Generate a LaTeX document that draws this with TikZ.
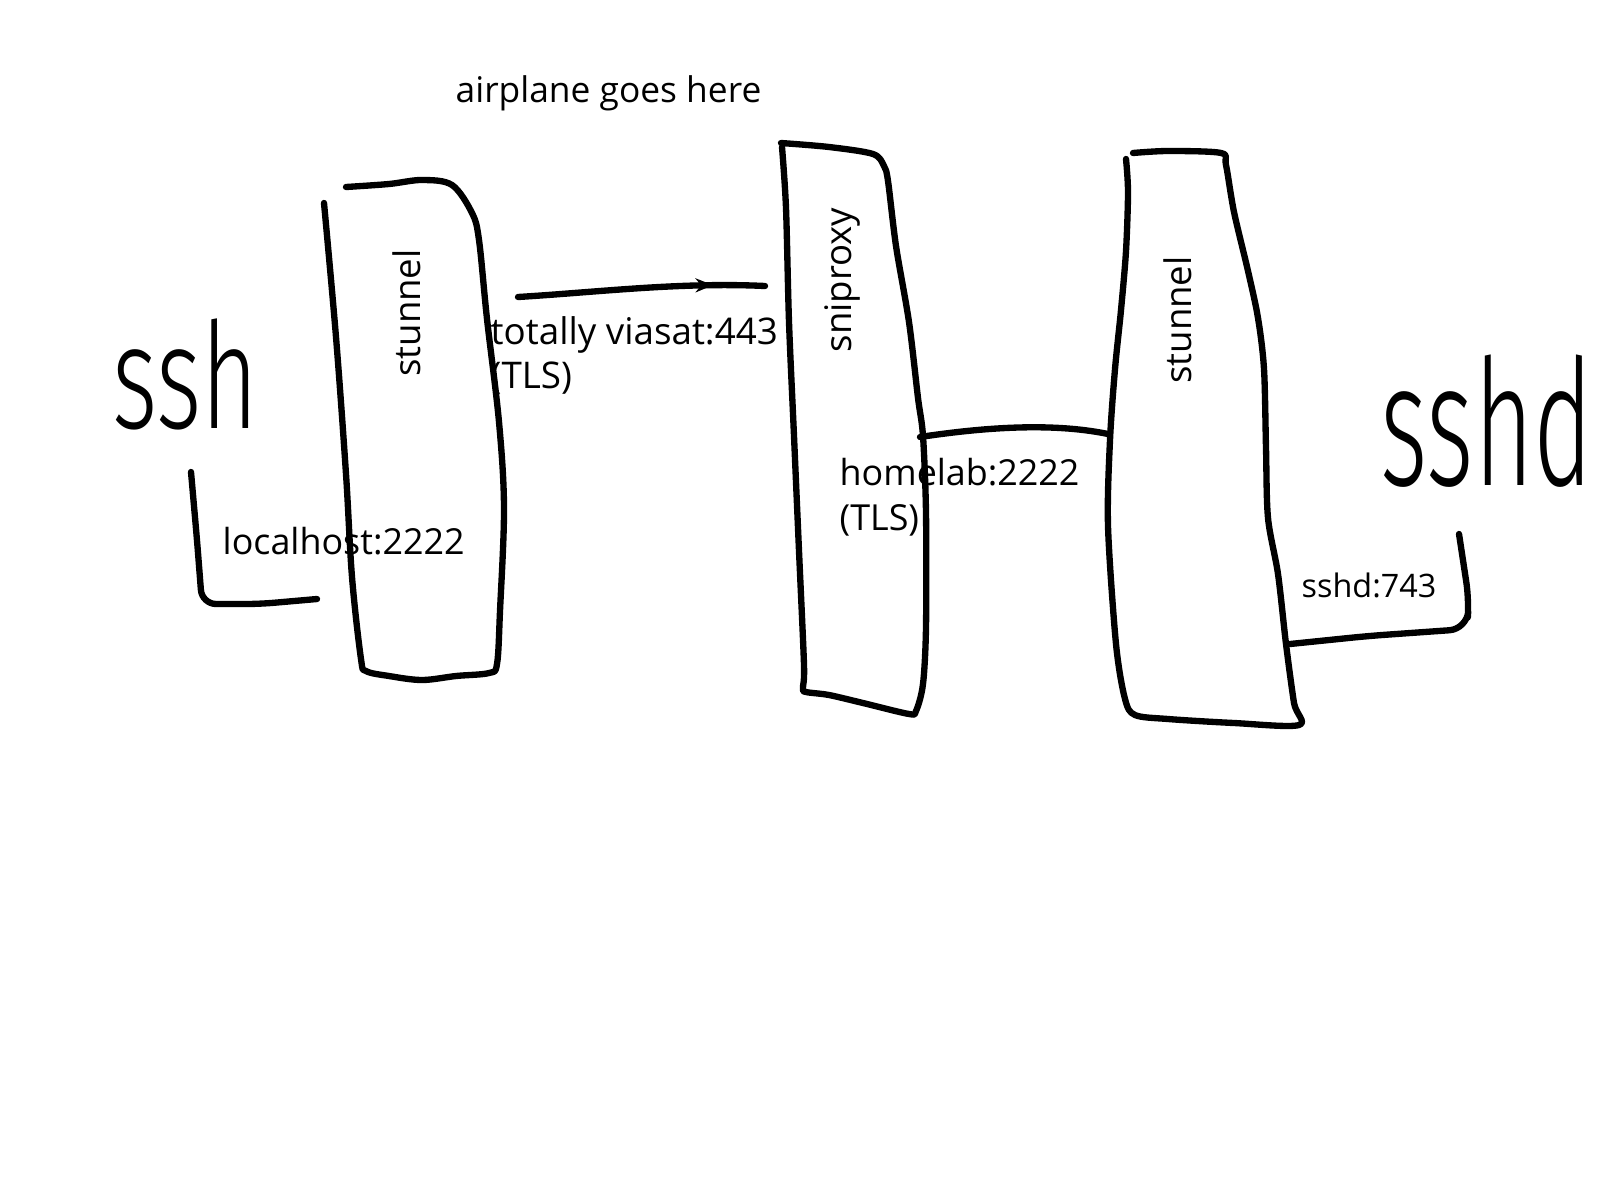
\documentclass[tikz,border=0pt]{standalone}
\usepackage{fontspec}
\setmainfont{Open Sans}
\newfontfamily\handfont{Fira Sans Light}
\usetikzlibrary{arrows.meta,decorations.markings}
\tikzset{
  pen/.style={line width=1.8pt, line cap=round, line join=round},
  lbl/.style={font=\fontsize{10.2}{12.6}\selectfont, inner sep=0pt, align=left},
  smalllbl/.style={font=\fontsize{9.2}{11}\selectfont, inner sep=0pt},
  vlbl/.style={font=\fontsize{10.4}{12.6}\selectfont, inner sep=0pt, rotate=90},
  arrowmark/.style={postaction={decorate}, decoration={markings,
      mark=at position 0.79 with {\arrow{Stealth[length=5pt,width=4pt]}}}}
}
\begin{document}
\begin{tikzpicture}[x=0.01cm,y=-0.01cm]
\fill[white] (0,0) rectangle (1600,1200);
\path[use as bounding box] (0,0) rectangle (1600,1200);

% left stunnel box
\draw[pen] plot[smooth, tension=0.55] coordinates {(346,187) (389,184) (422,180) (452,185) (472,213) (479,240) (487,319) (499,422) (504,508) (500,611) (497,664) (489,673) (456,676) (422,680) (389,676) (366,671) (361,659) (352,577) (346,474) (336,337) (324,203)};
% sniproxy box
\draw[pen] plot[smooth, tension=0.5] coordinates {(782,147) (786,208) (789,322) (794,436) (799,551) (804,665) (803,688) (806,692) (829,695) (863,703) (909,714) (916,711) (923,684) (926,627) (926,513) (923,436) (918,398) (909,322) (896,246) (888,181) (884,166) (873,154) (829,147) (781,143)};
% right stunnel box
\draw[pen] plot[smooth, tension=0.5] coordinates {(1126,159) (1128,192) (1126,251) (1121,310) (1115,369) (1110,440) (1108,526) (1116,644) (1125,699) (1135,715) (1168,719) (1234,723) (1299,725) (1294,703) (1286,644) (1278,574) (1268,518) (1266,448) (1264,369) (1258,318) (1248,271) (1234,212) (1226,165) (1221,153) (1168,151) (1133,153)};

% labels
\node[lbl, anchor=base west, font=\fontsize{10.05}{12.6}\selectfont] (air) at (455,102) {airplane goes here};
\node[vlbl] (stOne) at (407,313) {stunnel};
\node[vlbl] (snip) at (842,280) {sniproxy};
\node[vlbl] (stTwo) at (1178,320) {stunnel};
\node[lbl, anchor=north west, font=\fontsize{10.45}{12.6}\selectfont] (tot) at (490,316) {totally viasat:443\\(TLS)};
\node[lbl, anchor=north west] (home) at (839,458) {homelab:2222\\(TLS)};
\node[lbl, anchor=base west] (local) at (222,554) {localhost:2222};
\node[smalllbl, anchor=base west] (port) at (1301,597) {sshd:743};
\node[anchor=base west, inner sep=0pt, font=\handfont\fontsize{42}{42}\selectfont] (ssh) at (112,428) {\scalebox{0.66}[1]{ssh}};
\node[anchor=base west, inner sep=0pt, font=\handfont\fontsize{50}{50}\selectfont] (sshd) at (1380,485) {\scalebox{0.58}[1]{sshd}};

% connector points
\coordinate (sshA) at (191,472);
\coordinate (stOneIn) at (317,599);
\coordinate (stOneOut) at (518,297);
\coordinate (snipIn) at (765,286);
\coordinate (snipOut) at (920,437);
\coordinate (stTwoIn) at (1108,434);
\coordinate (stTwoOut) at (1290,644);
\coordinate (sshdA) at (1459,534);

% connectors
\draw[pen, rounded corners=4pt] (sshA) -- (197,540) -- (202,604) -- (260,604) -- (stOneIn);
\draw[pen, arrowmark] (stOneOut) .. controls (600,292) and (680,282) .. (snipIn);
\draw[pen] (snipOut) .. controls (980,428) and (1050,422) .. (stTwoIn);
\draw[pen, rounded corners=5pt] (stTwoOut) -- (1368,636) -- (1467,629) -- (1469,600) -- (sshdA);
\end{tikzpicture}
\end{document}
